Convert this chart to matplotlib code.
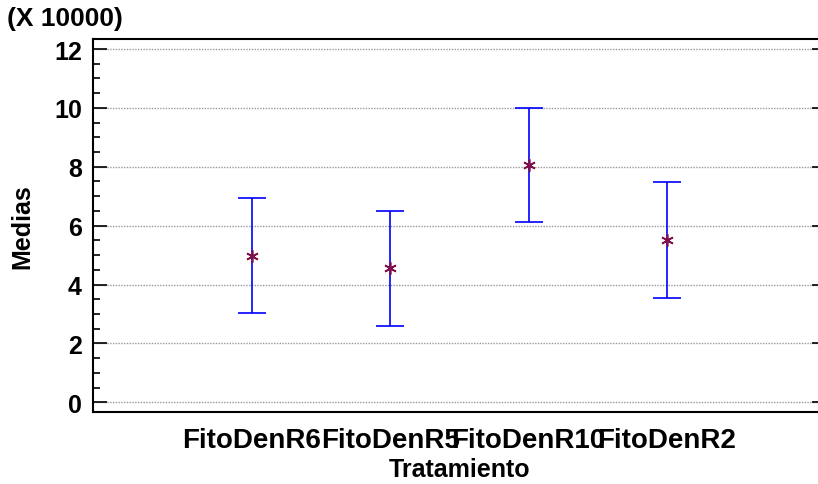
import numpy as np
import matplotlib.pyplot as plt
from matplotlib.ticker import MultipleLocator

plt.rcParams['font.family'] = ['Liberation Sans', 'DejaVu Sans']
plt.rcParams['font.weight'] = 'bold'

# datos (medias en unidades de 10000)
tratamientos = ['FitoDenR6', 'FitoDenR5', 'FitoDenR10', 'FitoDenR2']
medias = [4.98, 4.55, 8.06, 5.52]
inferior = [3.03, 2.60, 6.11, 3.54]
superior = [6.93, 6.50, 9.99, 7.47]

pos = np.arange(1, len(tratamientos) + 1)
err = [np.subtract(medias, inferior), np.subtract(superior, medias)]

fig = plt.figure(figsize=(8.18, 4.85), dpi=100)
ax = fig.add_axes([93 / 818, 72 / 485, 733 / 818, 373 / 485])

ax.errorbar(pos, medias, yerr=err, fmt='none', ecolor='#0000ff',
            elinewidth=1.2, capsize=10, capthick=1.2, zorder=3)
ax.plot(pos, medias, linestyle='none', marker=(6, 2, 0), markersize=9,
        markeredgewidth=1.2, color='#80104a', zorder=4)

ax.set_xlim(-0.15, 5.15)
ax.set_ylim(-0.33, 12.34)
ax.set_xticks(pos)
ax.set_xticklabels(tratamientos, fontsize=20, fontweight='bold')
ax.yaxis.set_major_locator(MultipleLocator(2))
ax.yaxis.set_minor_locator(MultipleLocator(0.5))
ax.tick_params(axis='y', which='major', direction='in', length=10, width=1.2,
               labelsize=18, pad=8, right=True)
ax.tick_params(axis='y', which='minor', direction='in', length=5, width=1.2)
ax.tick_params(axis='x', length=0, pad=11)
for lab in ax.get_yticklabels():
    lab.set_fontweight('bold')

ax.grid(axis='y', which='major', color='#999999', linestyle=(0, (1, 1)),
        linewidth=1)
for s in ax.spines.values():
    s.set_linewidth(1.5)

ax.set_xlabel('Tratamiento', fontsize=18, fontweight='bold', labelpad=3)
ax.set_ylabel('Medias', fontsize=18, fontweight='bold', labelpad=14)
fig.text(7 / 818, 1 - 7 / 485, '(X 10000)', fontsize=19, fontweight='bold',
         ha='left', va='top')

fig.savefig('out.png', dpi=100)
